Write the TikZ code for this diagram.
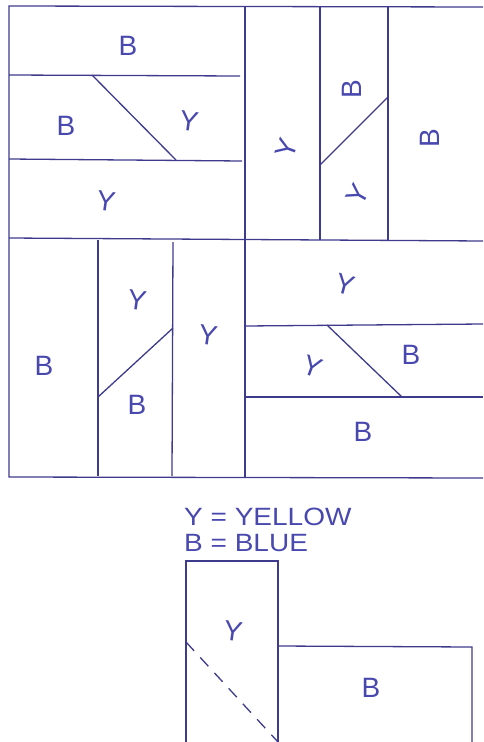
\documentclass[tikz,border=0pt]{standalone}
\usepackage{fontspec}
\setmainfont{Liberation Sans}
\definecolor{penc}{RGB}{62,58,140}
\definecolor{inkc}{RGB}{72,72,175}
\tikzset{
  pen/.style={draw=penc, line width=1.3pt},
  lab/.style={text=inkc, font=\fontsize{28}{32}\selectfont, inner sep=0pt},
  legend/.style={text=inkc, font=\fontsize{25}{26}\selectfont, inner sep=0pt, anchor=west, xscale=1.12}
}
\begin{document}
\begin{tikzpicture}[x=1pt,y=-1pt]
\useasboundingbox (0,0) rectangle (483,742);
% frame
\draw[pen] (483,7) -- (9,6) -- (9,477) -- (483,478);
\draw[pen] (9,238) -- (483,241);
\draw[pen] (245,6) -- (245,477);
% top-left block
\draw[pen] (9,75) -- (240,76);
\draw[pen] (9,159) -- (242,161);
\draw[pen] (92,75) -- (176,160);
% top-right block
\draw[pen] (320,7) -- (320,240);
\draw[pen] (388,7) -- (388,240);
\draw[pen] (320,165) -- (388,97);
% bottom-left block
\draw[pen] (98,240) -- (98,476);
\draw[pen] (173,242) -- (172,476);
\draw[pen] (98,397) -- (173,328);
% bottom-right block
\draw[pen] (245,326) -- (483,324);
\draw[pen] (245,397) -- (483,397);
\draw[pen] (327,325) -- (402,397);
% lower piece
\draw[pen] (186,742) -- (186,561) -- (278,561) -- (278,742);
\draw[pen] (278,646) -- (472,647) -- (472,742);
\draw[pen, dashed, dash pattern=on 12pt off 9pt] (186,642) -- (278,742);
% labels top-left
\node[lab] (t1) at (128,46) {B};
\node[lab] (t2) at (66,126) {B};
\node[lab, rotate=-8] (t3) at (189,121) {Y};
\node[lab, rotate=-8] (t4) at (106,201) {Y};
% labels top-right
\node[lab, rotate=70] (r1) at (287,148) {Y};
\node[lab, rotate=90] (r2) at (352,89) {B};
\node[lab, rotate=60] (r3) at (358,195) {Y};
\node[lab, rotate=90] (r4) at (430,138) {B};
% labels bottom-left
\node[lab] (l1) at (44,366) {B};
\node[lab, rotate=-8] (l2) at (137,300) {Y};
\node[lab] (l3) at (137,405) {B};
\node[lab, rotate=-8] (l4) at (208,335) {Y};
% labels bottom-right
\node[lab, rotate=-15] (b1) at (345,285) {Y};
\node[lab, rotate=-20] (b2) at (313,367) {Y};
\node[lab] (b3) at (411,355) {B};
\node[lab] (b4) at (363,432) {B};
% legend
\node[legend] (k1) at (184,517) {Y = YELLOW};
\node[legend] (k2) at (184,543) {B = BLUE};
% lower piece labels
\node[lab, rotate=-8] (p1) at (233,631) {Y};
\node[lab] (p2) at (371,688) {B};
\end{tikzpicture}
\end{document}
